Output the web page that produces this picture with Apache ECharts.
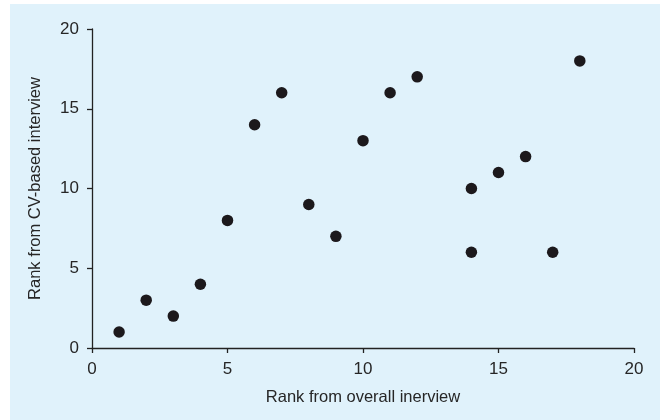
<!DOCTYPE html>
<html><head><meta charset="utf-8">
<script src="https://cdn.jsdelivr.net/npm/echarts@6/dist/echarts.min.js"></script>
<style>html,body{margin:0;padding:0;background:#fff;}#c{width:660px;height:420px;}</style>
</head><body><div id="c"></div>
<script>
const xRank = [1, 2, 3, 4, 5, 6, 7, 8, 9, 10, 11, 12, 14, 14, 15, 16, 17, 18];
const yRank = [1, 3, 2, 4, 8, 14, 16, 9, 7, 13, 16, 17, 10, 6, 11, 12, 6, 18];
const xTitle = 'Rank from overall inerview';
const yTitle = 'Rank from CV-based interview';

const chart = echarts.init(document.getElementById('c'));
const font = 'Liberation Sans, Arial, sans-serif';
const axisCommon = {
  min: 0, max: 20, interval: 5,
  axisLine: {show: true, lineStyle: {color: '#222', width: 1.3}},
  axisTick: {show: true, length: 5, lineStyle: {color: '#222', width: 1.3}},
  splitLine: {show: false},
  axisLabel: {color: '#262626', fontSize: 17, fontFamily: font, margin: 13},
  nameTextStyle: {color: '#262626', fontSize: 16.5, fontFamily: font},
  nameLocation: 'middle'
};
chart.setOption({
  animation: false,
  graphic: [{type: 'rect', z: -10, silent: true, shape: {x: 10, y: 4, width: 650, height: 416}, style: {fill: '#e0f2fb'}}],
  grid: {left: 92, right: 26, top: 29, bottom: 72},
  xAxis: Object.assign({}, axisCommon, {type: 'value', name: xTitle, nameGap: 41}),
  yAxis: Object.assign({}, axisCommon, {type: 'value', name: yTitle, nameGap: 48}),
  series: [{
    type: 'scatter',
    symbol: 'circle',
    symbolSize: 11.5,
    itemStyle: {color: '#1c191c', opacity: 1},
    data: xRank.map((x, i) => [x, yRank[i]])
  }]
});
</script></body></html>
